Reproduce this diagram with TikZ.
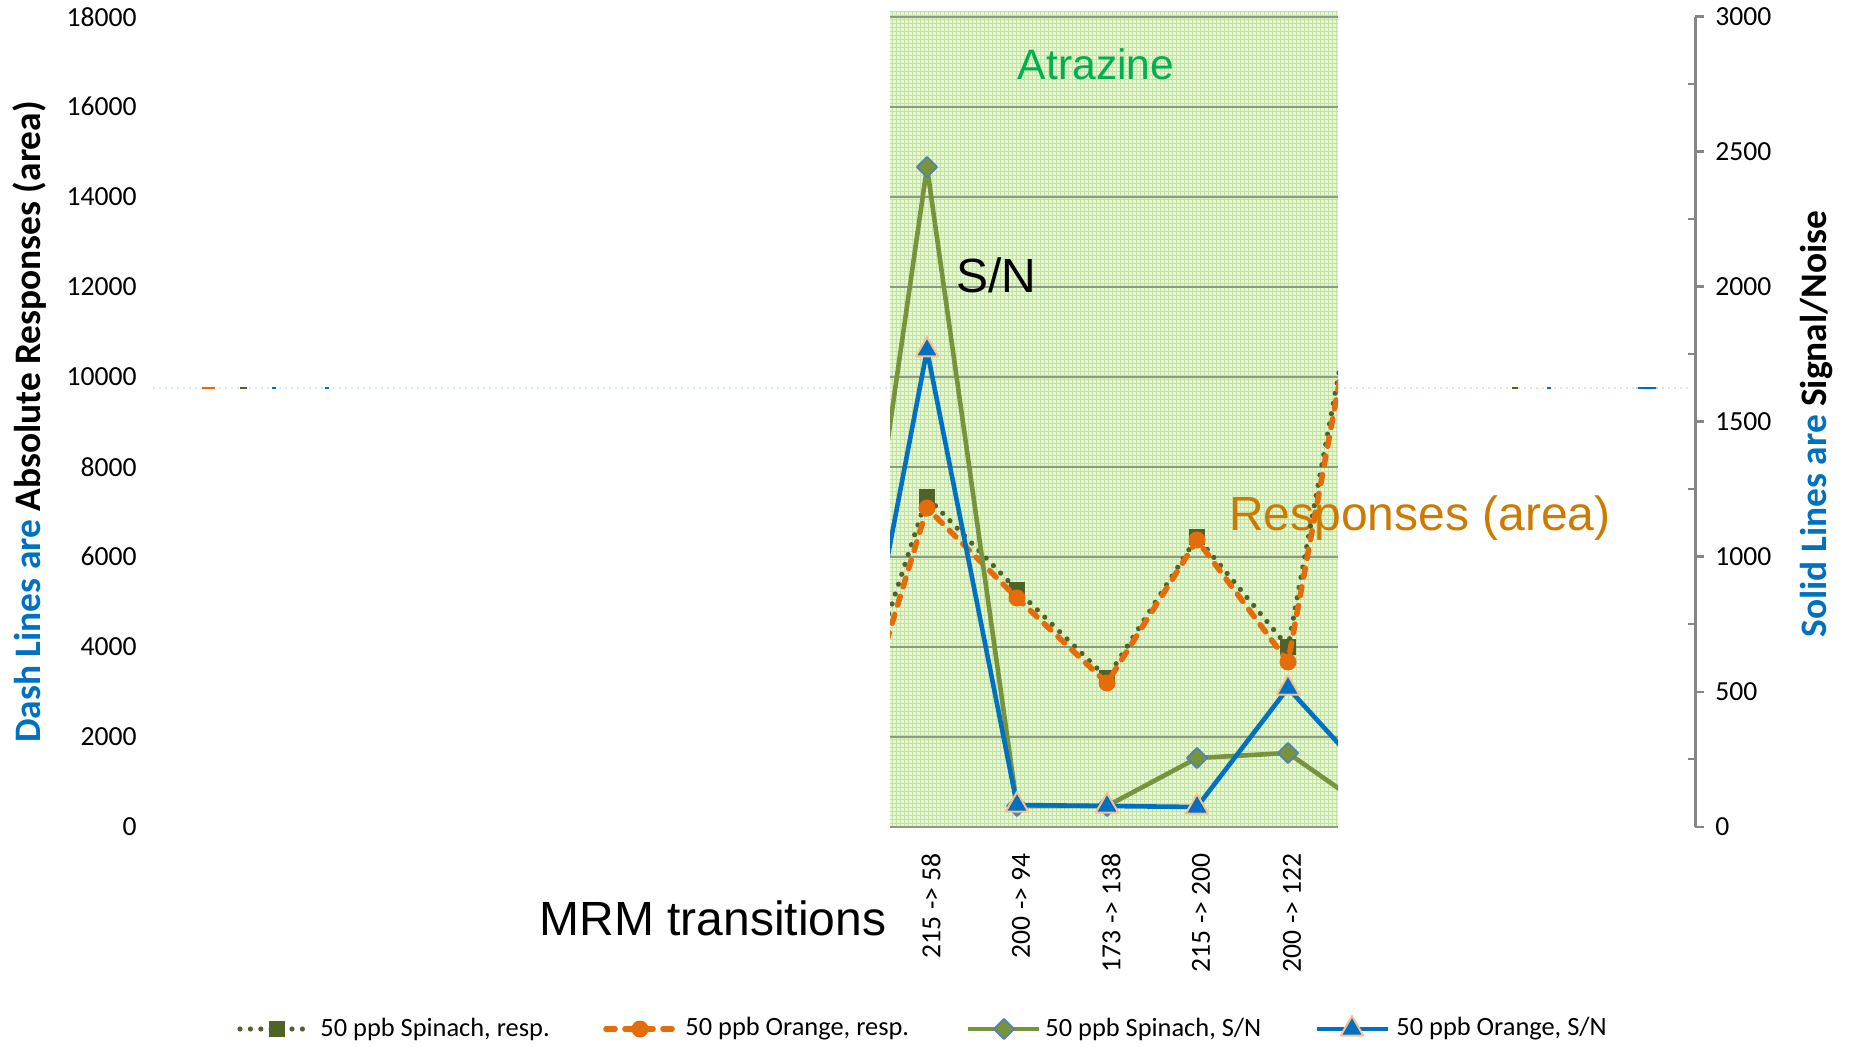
\documentclass[tikz,border=0pt]{standalone}
\usepackage{fontspec}
\setmainfont{Carlito}
\newfontfamily\arialfont{Liberation Sans}
\usetikzlibrary{shapes.geometric,patterns.meta}

\definecolor{spinachdark}{HTML}{4F6228}
\definecolor{orangeresp}{HTML}{E46C0A}
\definecolor{spinachsn}{HTML}{77933C}
\definecolor{orangesn}{HTML}{0070C0}
\definecolor{diamondedge}{HTML}{4F81BD}
\definecolor{triedge}{HTML}{FAC090}
\definecolor{titleblue}{HTML}{0070C0}
\definecolor{axisgray}{HTML}{868686}
\definecolor{gridgray}{HTML}{8C9A80}
\definecolor{areafill}{HTML}{E8F5D9}
\definecolor{areahatch}{HTML}{C2E3A0}
\definecolor{atrazinegreen}{HTML}{00B050}
\definecolor{respbrown}{HTML}{CC7A00}
\definecolor{ghostblue}{HTML}{D3EEF8}
\definecolor{ghostpink}{HTML}{F6DCDC}

\begin{document}
\begin{tikzpicture}[x=0.5pt,y=-0.5pt,line join=round]
	\tikzstyle{tick label}=[font=\fontsize{13.8}{16}\selectfont,inner sep=0pt]
	\tikzstyle{cat label}=[font=\fontsize{13.8}{16}\selectfont,inner sep=0pt,rotate=90,anchor=east]
	\tikzstyle{axis title}=[font=\bfseries\fontsize{18.7}{22}\selectfont,inner sep=0pt,rotate=90]
	\tikzstyle{big label}=[font=\arialfont\fontsize{24}{28}\selectfont,inner sep=0pt]
	\tikzstyle{legend text}=[font=\fontsize{13.2}{16}\selectfont,inner sep=0pt,anchor=west]
	\tikzstyle{sq mark}=[rectangle,fill=spinachdark,minimum size=8pt,inner sep=0pt]
	\tikzstyle{dot mark}=[circle,fill=orangeresp,minimum size=8.5pt,inner sep=0pt]
	\tikzstyle{dia mark}=[diamond,fill=spinachsn,draw=diamondedge,line width=0.8pt,minimum size=10.5pt,inner sep=0pt]
	\tikzstyle{tri mark}=[regular polygon,regular polygon sides=3,fill=orangesn,draw=triedge,line width=1pt,minimum size=13pt,inner sep=0pt]
	\tikzstyle{spinach resp}=[draw=spinachdark,line width=2.6pt,line cap=round,dash pattern=on 0pt off 5.2pt]
	\tikzstyle{orange resp}=[draw=orangeresp,line width=2.8pt,line cap=round,dash pattern=on 4.5pt off 5pt]
	\tikzstyle{spinach sn}=[draw=spinachsn,line width=2.3pt]
	\tikzstyle{orange sn}=[draw=orangesn,line width=2.3pt]
	
	\useasboundingbox (0,0) rectangle (1852,1047);
	
	% plot area
	\fill[areafill] (890,12) rectangle (1338,826);
	\fill[pattern={Hatch[angle=0,distance=2pt,line width=0.35pt]},pattern color=areahatch] (890,12) rectangle (1338,826);
	\foreach \k in {0,...,9}
		\draw[gridgray,line width=1pt] (890,826.7-90*\k) -- (1338,826.7-90*\k);
	
	% stray series traces
	\draw[ghostblue,line width=0.6pt,dash pattern=on 1pt off 2pt] (153,388) -- (889,388);
	\draw[ghostpink,line width=0.6pt,dash pattern=on 1pt off 2pt] (1338,388) -- (1690,388);
	\draw[orangeresp,line width=0.8pt] (202,388) -- (215,388);
	\draw[spinachdark,line width=0.8pt] (240,388) -- (247,388);
	\draw[orangesn,line width=0.8pt] (272,388) -- (276,388);
	\draw[orangesn,line width=0.8pt] (325,388) -- (329,388);
	\draw[spinachdark,line width=0.8pt] (1512,388) -- (1518,388);
	\draw[orangesn,line width=0.8pt] (1547,388) -- (1551,388);
	\draw[triedge,line width=1.2pt] (1636,388) -- (1658,388);
	\draw[orangesn,line width=0.8pt] (1638,388) -- (1656,388);
	
	% labels in the plot
	\node[big label,text=atrazinegreen,font=\arialfont\fontsize{21.3}{25}\selectfont] (atrazine) at (1096,64) {Atrazine};
	\node[big label] (snlabel) at (996,275) {S/N};
	\node[big label,text=respbrown] (resplabel) at (1420,518) {Responses (area)};
	\node[big label] (mrm) at (713,918) {MRM transitions};
	
	% data points
	\foreach \x/\y [count=\i from 0] in {837/772,927/497,1017/590,1107/678,1197/537,1288/647,1378/163}
		\coordinate (sr\i) at (\x,\y);
	\foreach \x/\y [count=\i from 0] in {837/805,927/508,1017/598,1107/683,1197/540,1288/662,1378/172}
		\coordinate (or\i) at (\x,\y);
	\foreach \x/\y [count=\i from 0] in {837/794,927/167,1017/806,1107/806,1197/758,1288/753,1378/816}
		\coordinate (ss\i) at (\x,\y);
	\foreach \x/\y [count=\i from 0] in {837/823,927/350,1017/805,1107/806,1197/807,1288/688,1378/787}
		\coordinate (os\i) at (\x,\y);
	
	\begin{scope}
		\clip (890,12) rectangle (1338,826);
		\draw[spinach resp] (sr0) \foreach \i in {1,...,6} {-- (sr\i)};
		\foreach \i in {1,...,5} \node[sq mark] (srm\i) at (sr\i) {};
		\draw[orange resp] (or0) \foreach \i in {1,...,6} {-- (or\i)};
		\foreach \i in {1,...,5} \node[dot mark] (orm\i) at (or\i) {};
		\draw[spinach sn] (ss0) \foreach \i in {1,...,6} {-- (ss\i)};
		\foreach \i in {1,...,5} \node[dia mark] (ssm\i) at (ss\i) {};
		\draw[orange sn] (os0) \foreach \i in {1,...,6} {-- (os\i)};
		\foreach \i in {1,...,5} \node[tri mark] (osm\i) at (os\i) {};
	\end{scope}
	
	% category labels
	\foreach \x/\t in {931/215 -> 58,1021/200 -> 94,1111/173 -> 138,1201/215 -> 200,1292/200 -> 122}
		\node[cat label] (cat\x) at (\x,853) {\t};
	
	% left axis
	\foreach \k/\v in {0/0,1/2000,2/4000,3/6000,4/8000,5/10000,6/12000,7/14000,8/16000,9/18000}
		\node[tick label,anchor=east] (lt\k) at (137,826.7-90*\k) {\v};
	\node[axis title] (lefttitle) at (30,422) {{\color{titleblue}Dash Lines are} Absolute Responses (area)};
	
	% right axis
	\draw[axisgray,line width=1.5pt] (1695,16.7) -- (1695,826.7);
	\foreach \k/\v in {0/0,1/500,2/1000,3/1500,4/2000,5/2500,6/3000} {
		\draw[axisgray,line width=1.2pt] (1695,826.7-135*\k) -- (1704,826.7-135*\k);
		\node[tick label,anchor=west] (rt\k) at (1715,826.7-135*\k) {\v};
	}
	\foreach \k in {0,...,5}
		\draw[axisgray,line width=1.2pt] (1688,759.2-135*\k) -- (1695,759.2-135*\k);
	\node[axis title] (righttitle) at (1817,424) {{\color{titleblue}Solid Lines are} Signal/Noise};
	
	% legend
	\coordinate (l1a) at (240,1029); \coordinate (l1b) at (309,1029);
	\coordinate (l2a) at (606,1029); \coordinate (l2b) at (673,1029);
	\coordinate (l3a) at (968,1029); \coordinate (l3b) at (1039,1029);
	\coordinate (l4a) at (1317,1029); \coordinate (l4b) at (1388,1029);
	\draw[spinach resp] (l1a) -- (l1b);
	\node[sq mark] (lm1) at (277,1029) {};
	\node[legend text] (lt1) at (320,1029) {50 ppb Spinach, resp.};
	\draw[orange resp] (l2a) -- (l2b);
	\node[dot mark] (lm2) at (640,1029) {};
	\node[legend text] (lt2) at (685,1029) {50 ppb Orange, resp.};
	\draw[spinach sn] (l3a) -- (l3b);
	\node[dia mark] (lm3) at (1004,1029) {};
	\node[legend text] (lt3) at (1045,1029) {50 ppb Spinach, S/N};
	\draw[orange sn] (l4a) -- (l4b);
	\node[tri mark] (lm4) at (1352,1029) {};
	\node[legend text] (lt4) at (1396,1029) {50 ppb Orange, S/N};
\end{tikzpicture}
\end{document}
